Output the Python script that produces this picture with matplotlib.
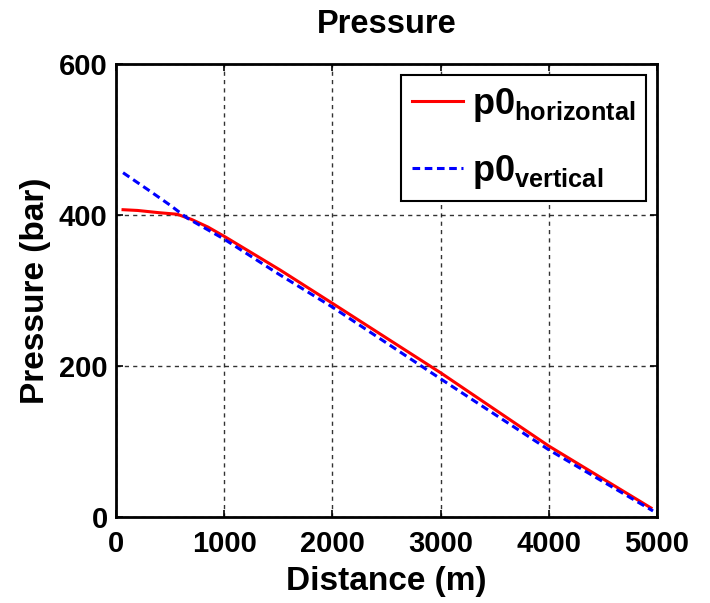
import numpy as np
import matplotlib.pyplot as plt

# data
dist_h = [65, 200, 400, 565, 700, 850, 1009, 1518, 2000, 3000, 4000, 4944]
p0_horizontal = [407, 406, 403, 401, 394, 384, 371, 327, 283, 191, 94, 12]
dist_v = [65, 300, 500, 657, 1000, 1500, 2000, 3000, 4000, 4963]
p0_vertical = [456, 433, 413, 396, 368, 322, 278, 183, 89, 8]

xticks = [0, 1000, 2000, 3000, 4000, 5000]
yticks = [0, 200, 400, 600]

plt.rcParams['font.family'] = ['Liberation Sans', 'DejaVu Sans']
plt.rcParams['font.weight'] = 'bold'
plt.rcParams['mathtext.fontset'] = 'custom'
plt.rcParams['mathtext.rm'] = 'Liberation Sans:bold'
plt.rcParams['mathtext.it'] = 'Liberation Sans:bold'
plt.rcParams['mathtext.bf'] = 'Liberation Sans:bold'

fig = plt.figure(figsize=(7.1, 6.03), dpi=100)
ax = fig.add_axes([0.1634, 0.1426, 0.762, 0.7513])

ax.plot(dist_h, p0_horizontal, color='red', lw=2.2, label=r'$\mathregular{p0_{horizontal}}$')
ax.plot(dist_v, p0_vertical, color='blue', lw=2.2, ls=(0, (2.5, 1.5)), label=r'$\mathregular{p0_{vertical}}$')

ax.set_xlim(0, 5000)
ax.set_ylim(0, 600)
ax.set_xticks(xticks)
ax.set_yticks(yticks)
ax.tick_params(direction='in', top=True, right=True, length=5, width=1.2, labelsize=21)
ax.tick_params(axis='x', pad=9)
ax.tick_params(axis='y', pad=6)
for lab in ax.get_xticklabels() + ax.get_yticklabels():
    lab.set_fontweight('bold')
for s in ax.spines.values():
    s.set_linewidth(2)

ax.grid(True, color='black', ls=(0, (3, 3)), lw=1, alpha=0.8)

ax.set_title('Pressure', fontsize=23.5, fontweight='bold', pad=22)
ax.set_xlabel('Distance (m)', fontsize=24, fontweight='bold', labelpad=6)
ax.set_ylabel('Pressure (bar)', fontsize=24, fontweight='bold', labelpad=6)

leg = ax.legend(loc='upper right', fontsize=26, handlelength=1.4, borderaxespad=0.3,
                fancybox=False, framealpha=1, edgecolor='black', labelspacing=0.8,
                handletextpad=0.25, borderpad=0.3)
leg.get_frame().set_linewidth(1.5)

fig.savefig('out.png', dpi=100)
